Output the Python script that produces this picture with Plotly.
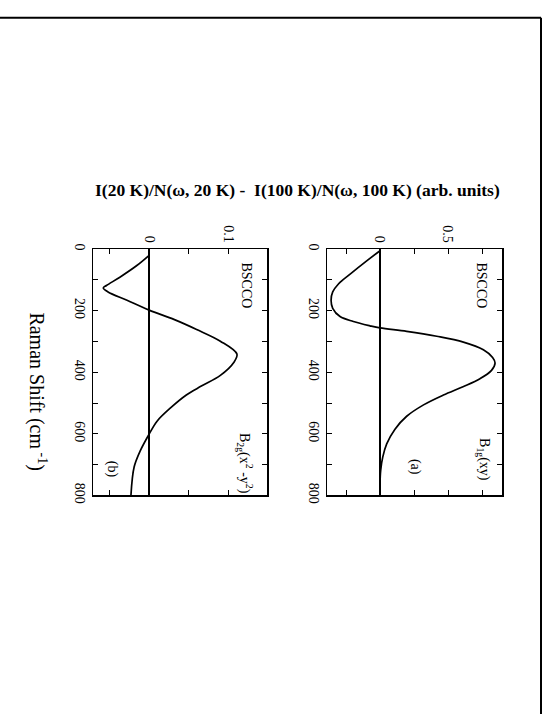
import plotly.graph_objects as go

W, H = 548, 722

# Panel (a): B1g(xy)
shift_a = [5, 38, 81, 113, 139, 166, 192, 219, 235, 249, 256, 267, 283, 302, 327, 352, 370,
           394, 421, 447, 474, 506, 543, 585, 633, 676, 718, 761, 800]
diff_a = [0, -0.098, -0.22, -0.306, -0.348, -0.36, -0.348, -0.294, -0.196, -0.074, 0, 0.196,
          0.417, 0.613, 0.76, 0.828, 0.846, 0.82, 0.735, 0.61, 0.466, 0.32, 0.196, 0.11,
          0.049, 0.02, 0.005, 0, 0]

# Panel (b): B2g(x2-y2)
shift_b = [20, 54, 91, 118, 126, 139, 166, 198, 229, 261, 299, 341, 368, 410, 445, 474, 516,
           559, 601, 654, 708, 800]
diff_b = [0, -0.016, -0.037, -0.054, -0.058, -0.052, -0.028, 0, 0.032, 0.06, 0.09, 0.111,
          0.107, 0.09, 0.066, 0.047, 0.027, 0.010, 0, -0.011, -0.019, -0.023]

FONT = "Liberation Serif"

def px_x(p):
    return p / W

def px_y(p):
    return 1 - p / H

fig = go.Figure()
fig.add_trace(go.Scatter(x=diff_b, y=shift_b, mode="lines", line=dict(color="black", width=1.7, shape="spline"),
                         xaxis="x", yaxis="y", showlegend=False, hoverinfo="skip"))
fig.add_trace(go.Scatter(x=diff_a, y=shift_a, mode="lines", line=dict(color="black", width=1.7, shape="spline"),
                         xaxis="x2", yaxis="y2", showlegend=False, hoverinfo="skip"))

ydom = [px_y(499), px_y(248)]
common_y = dict(range=[800, 0], domain=ydom, tickmode="linear", tick0=0, dtick=200,
                ticks="inside", ticklen=5, tickwidth=1, tickcolor="black",
                minor=dict(dtick=100, ticks="inside", ticklen=5, tickcolor="black"),
                showline=True, linecolor="black", linewidth=1.5, mirror="ticks",
                showgrid=False, zeroline=False, tickangle=90,
                tickfont=dict(family=FONT, size=14, color="black"), side="left")
common_x = dict(side="top", ticks="inside", ticklen=5, tickwidth=1, tickcolor="black",
                showline=True, linecolor="black", linewidth=1.5, mirror="ticks",
                showgrid=False, zeroline=True, zerolinecolor="black", zerolinewidth=1.4,
                tickangle=90, tickfont=dict(family=FONT, size=14, color="black"))

fig.update_layout(
    width=W, height=H, margin=dict(l=0, r=0, t=0, b=0),
    paper_bgcolor="white", plot_bgcolor="white", hovermode=False,
    xaxis=dict(common_x, domain=[px_x(93), px_x(267)], range=[-0.071, 0.149], anchor="y",
               tickmode="linear", tick0=0, dtick=0.1,
               minor=dict(dtick=0.05, ticks="inside", ticklen=5, tickcolor="black")),
    yaxis=dict(common_y, anchor="x"),
    xaxis2=dict(common_x, domain=[px_x(327), px_x(502)], range=[-0.39, 0.897], anchor="y2",
                tickmode="linear", tick0=0, dtick=0.5,
                minor=dict(dtick=0.25, ticks="inside", ticklen=5, tickcolor="black")),
    yaxis2=dict(common_y, anchor="x2"),
)

def ann(text, x, y, size=14, bold=False, angle=90):
    fig.add_annotation(text=("<b>%s</b>" % text) if bold else text, x=px_x(x), y=px_y(y),
                       xref="paper", yref="paper", showarrow=False, textangle=angle,
                       font=dict(family=FONT, size=size, color="black"),
                       xanchor="center", yanchor="middle")

ann("I(20 K)/N(\u03c9, 20 K) -  I(100 K)/N(\u03c9, 100 K) (arb. units)", 297, 188, size=17.5, bold=True, angle=0)
ann("Raman Shift (cm<sup> -1</sup>)", 38, 393, size=20)
ann("BSCCO", 247, 285, size=14)
ann("BSCCO", 482, 285, size=14)
ann("B<sub>2g</sub>(x<sup>2</sup> -y<sup>2</sup>)", 245, 466, size=14)
ann("B<sub>1g</sub>(xy)", 484, 462, size=14)
ann("(a)", 415, 470, size=14)
ann("(b)", 112, 472, size=14)

# page border
fig.add_shape(type="line", xref="paper", yref="paper", x0=0, x1=px_x(541), y0=px_y(12), y1=px_y(12),
              line=dict(color="black", width=2))
fig.add_shape(type="line", xref="paper", yref="paper", x0=px_x(541), x1=px_x(541), y0=px_y(12), y1=0,
              line=dict(color="black", width=2))

fig.write_html("out.html", config={"displayModeBar": False, "staticPlot": True},
               post_script="document.body.style.margin='0';")
